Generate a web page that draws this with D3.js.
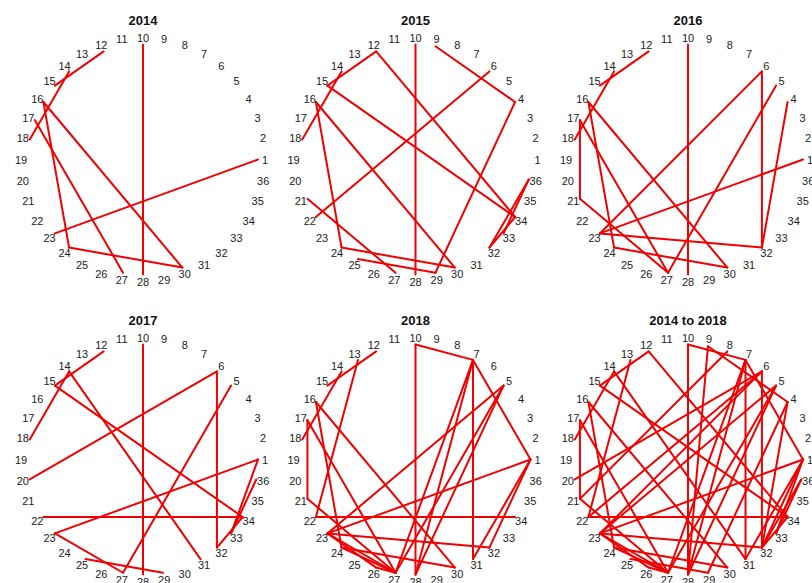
<!DOCTYPE html>
<html>
<head>
<meta charset="utf-8">
<script src="https://cdn.jsdelivr.net/npm/d3@7"></script>
<style>
  body { margin: 0; background: #fff; }
  svg { display: block; }
</style>
</head>
<body>
<div id="chart"></div>
<script>
// node ids 1..36 placed round a circle, 10 at the top, numbers decreasing clockwise
const nodes = d3.range(1, 37);

const titles = ["2014", "2015", "2016", "2017", "2018", "2014 to 2018"];

const edges2014 = [[10, 28], [12, 15], [14, 18], [16, 24], [16, 30], [17, 27], [24, 30], [1, 23]];

const edges2015 = [[10, 28], [12, 15], [14, 18], [9, 4], [4, 29], [6, 22], [12, 34], [15, 34],
	[16, 24], [16, 30], [24, 30], [21, 27], [25, 29], [36, 32], [36, 33], [32, 34]];

const edges2016 = [[10, 28], [12, 15], [14, 18], [6, 32], [6, 23], [5, 27], [4, 32], [1, 23],
	[23, 32], [17, 21], [21, 27], [17, 27], [16, 30], [16, 24], [24, 30]];

const edges2017 = [[10, 28], [12, 15], [14, 18], [14, 31], [15, 34], [6, 20], [6, 32], [5, 27],
	[1, 23], [23, 27], [22, 34], [25, 29], [1, 33], [36, 33], [32, 34]];

const edges2018 = [[10, 28], [10, 7], [7, 1], [7, 31], [7, 28], [7, 27], [5, 23], [5, 27], [5, 28],
	[1, 23], [1, 31], [1, 32], [22, 34], [13, 22], [12, 15], [14, 18], [16, 30], [16, 24],
	[17, 21], [17, 27], [21, 27], [23, 32], [23, 27], [24, 30], [24, 27], [23, 26], [26, 27]];

const edgesAll = [[10, 28], [12, 15], [14, 18], [16, 24], [16, 30], [17, 27], [24, 30], [1, 23],
	[9, 4], [4, 29], [6, 22], [12, 34], [15, 34], [21, 27], [25, 29], [36, 32], [36, 33], [32, 34],
	[6, 32], [6, 23], [5, 27], [4, 32], [23, 32], [17, 21],
	[14, 31], [6, 20], [23, 27], [22, 34], [1, 33],
	[10, 7], [7, 1], [7, 31], [7, 28], [7, 27], [5, 23], [5, 28], [1, 31], [1, 32], [13, 22],
	[24, 27], [23, 26], [26, 27],
	[9, 28], [8, 21]];

const edgeSets = [edges2014, edges2015, edges2016, edges2017, edges2018, edgesAll];

const width = 812, height = 583;
const pointR = 115, labelR = 122;

const svg = d3.select("#chart").append("svg")
	.attr("width", width)
	.attr("height", height)
	.style("font-family", "Liberation Sans, Arial, sans-serif");

// angle of a node: 10 at 0, 1 at +90deg (clockwise)
const angle = d3.scaleLinear().domain([10, -26]).range([0, 2 * Math.PI]);
const col = d3.scaleLinear().domain([0, 1]).range([143, 415.5]);
const row = d3.scaleLinear().domain([0, 1]).range([159.5, 459.5]);

const pos = (n, r) => d3.pointRadial(angle(n), r);

const panel = svg.selectAll("g.panel")
	.data(titles.map((t, i) => ({title: t, edges: edgeSets[i], i})))
	.join("g")
	.attr("class", "panel")
	.attr("transform", d => `translate(${col(d.i % 3)},${row(Math.floor(d.i / 3))})`);

panel.append("text")
	.attr("text-anchor", "middle")
	.attr("y", -135)
	.style("font-size", "13px")
	.style("font-weight", "bold")
	.attr("fill", "#111")
	.text(d => d.title);

panel.append("g")
	.selectAll("line")
	.data(d => d.edges)
	.join("line")
	.attr("x1", d => pos(d[0], pointR)[0])
	.attr("y1", d => pos(d[0], pointR)[1])
	.attr("x2", d => pos(d[1], pointR)[0])
	.attr("y2", d => pos(d[1], pointR)[1])
	.attr("stroke", "#f20000")
	.attr("stroke-width", 2)
	.attr("stroke-linecap", "round");

panel.append("g")
	.selectAll("text")
	.data(nodes)
	.join("text")
	.attr("x", d => pos(d, labelR)[0])
	.attr("y", d => pos(d, labelR)[1])
	.attr("text-anchor", "middle")
	.attr("dominant-baseline", "central")
	.style("font-size", "11px")
	.attr("fill", "#222")
	.text(d => d);
</script>
</body>
</html>
